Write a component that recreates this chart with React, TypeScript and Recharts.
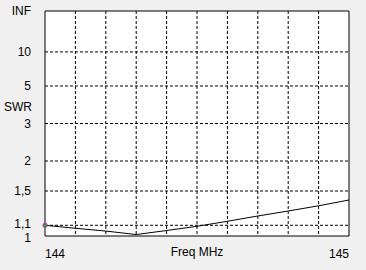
import { LineChart, Line, XAxis, YAxis, CartesianGrid } from "recharts";

// frequency sweep (MHz) and measured SWR
const freqs = [144.0, 144.1, 144.2, 144.3, 144.4, 144.5, 144.6, 144.7, 144.8, 144.9, 145.0];
const swr = [1.1, 1.071, 1.045, 1.013, 1.05, 1.09, 1.14, 1.195, 1.25, 1.31, 1.381];

// y axis ticks, as SWR and label text
const swrTicks = [1, 1.1, 1.5, 2, 3, 5, 10, Infinity];
const swrLabels = ["1", "1,1", "1,5", "2", "3", "5", "10", "INF"];

const freqTicks = [144, 145];
const freqGrid = [144.1, 144.2, 144.3, 144.4, 144.5, 144.6, 144.7, 144.8, 144.9];

// SWR -> reflection coefficient, which is what the axis is linear in
const gamma = (s: number) => (s === Infinity ? 1 : (s - 1) / (s + 1));

const data = freqs.map((f, i) => ({ f, g: gamma(swr[i]) }));
const yTicks = swrTicks.map(gamma);
const yGrid = yTicks.slice(1, -1);

const font = "'Liberation Sans', Arial, sans-serif";

const XTick = (props: any) => {
  const { x, y, payload, index } = props;
  return (
    <text
      x={x}
      y={y}
      dy="0.71em"
      textAnchor={index === 0 ? "start" : "end"}
      fontSize={12}
      fontFamily={font}
      fill="#000"
    >
      {payload.value}
    </text>
  );
};

// "1" and "1,1" sit very close, nudge them apart a little
const YTick = (props: any) => {
  const { x, y, payload, index } = props;
  const nudge = index === 0 ? 2 : index === 1 ? -2 : 0;
  return (
    <text
      x={x}
      y={y + nudge}
      dy="0.355em"
      textAnchor="end"
      fontSize={12}
      fontFamily={font}
      fill="#000"
    >
      {swrLabels[yTicks.indexOf(payload.value)]}
    </text>
  );
};

const StartDot = (props: any) => {
  const { cx, cy, index } = props;
  if (index !== 0) return <g key={index} />;
  return (
    <g key={index}>
      <circle cx={cx} cy={cy} r={2.5} fill="#ff00ff" />
      <line x1={cx - 2} x2={cx + 2} y1={cy} y2={cy} stroke="#00c000" strokeWidth={1.5} />
      <line x1={cx} x2={cx} y1={cy - 2} y2={cy + 2} stroke="#00c000" strokeWidth={1.5} />
    </g>
  );
};

export default function App() {
  return (
    <div style={{ position: "fixed", left: 0, top: 0, width: 366, height: 270, background: "#f0f0f0" }}>
      <LineChart width={366} height={270} data={data} margin={{ top: 11, right: 17, left: 0, bottom: 0 }}>
        <CartesianGrid
          fill="#fff"
          stroke="#000"
          strokeDasharray="3 2"
          horizontalValues={yGrid}
          verticalValues={freqGrid}
        />
        <CartesianGrid stroke="#000" horizontalValues={[0, 1]} verticalValues={[144, 145]} />
        <XAxis
          dataKey="f"
          type="number"
          domain={[144, 145]}
          ticks={freqTicks}
          interval={0}
          tickLine={false}
          axisLine={false}
          height={34}
          tickMargin={7}
          tick={<XTick />}
          label={{ value: "Freq MHz", position: "center", fontSize: 12, fontFamily: font, fill: "#000", dy: -1 }}
        />
        <YAxis
          type="number"
          domain={[0, 1]}
          ticks={yTicks}
          interval={0}
          tickLine={false}
          axisLine={false}
          width={45}
          tickMargin={8}
          tick={<YTick />}
          label={{ value: "SWR", position: "insideLeft", offset: 4, dy: -17, fontSize: 12, fontFamily: font, fill: "#000" }}
        />
        <Line
          dataKey="g"
          type="linear"
          stroke="#000"
          strokeWidth={1}
          dot={<StartDot />}
          activeDot={false}
          isAnimationActive={false}
        />
      </LineChart>
    </div>
  );
}
